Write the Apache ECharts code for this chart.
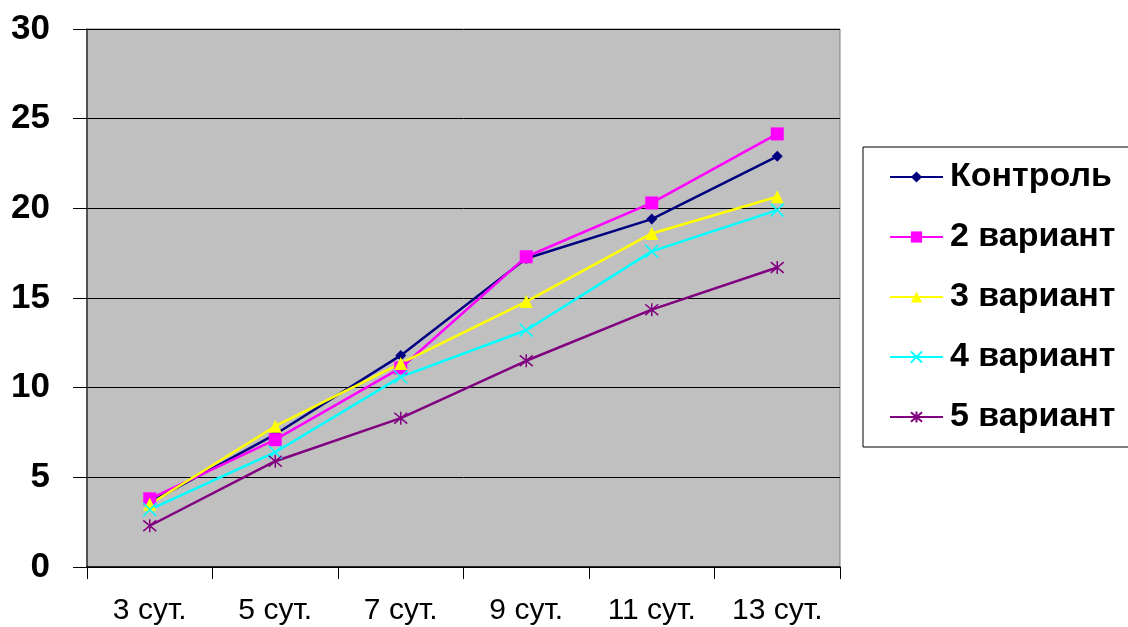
<!DOCTYPE html>
<html>
<head>
<meta charset="utf-8">
<script src="https://cdn.jsdelivr.net/npm/echarts@6/dist/echarts.min.js"></script>
<style>html,body{margin:0;padding:0;background:#fff;}#c{width:1128px;height:627px;}</style>
</head>
<body>
<div id="c"></div>
<script>
const categories = ['3 сут.', '5 сут.', '7 сут.', '9 сут.', '11 сут.', '13 сут.'];
const seriesNames = ['Контроль', '2 вариант', '3 вариант', '4 вариант', '5 вариант'];
const control = [3.6, 7.4, 11.8, 17.2, 19.4, 22.9];
const variant2 = [3.8, 7.1, 11.1, 17.3, 20.3, 24.15];
const variant3 = [3.5, 7.85, 11.35, 14.8, 18.6, 20.65];
const variant4 = [3.2, 6.4, 10.6, 13.2, 17.6, 19.9];
const variant5 = [2.3, 5.9, 8.3, 11.5, 14.35, 16.7];
const yTicks = [0, 5, 10, 15, 20, 25, 30];

const colors = ['#000080', '#FF00FF', '#FFFF00', '#00FFFF', '#800080'];
const symbols = [
  'diamond',
  'rect',
  'triangle',
  'path://M0,0L10,10M10,0L0,10',
  'path://M0,0L10,10M10,0L0,10M5,-1L5,11'
];
const sizes = [11, 13, 13, 13, 13];
const datas = [control, variant2, variant3, variant4, variant5];

const chart = echarts.init(document.getElementById('c'), null, {renderer: 'canvas'});
chart.setOption({
  animation: false,
  backgroundColor: '#ffffff',
  grid: {
    left: 87, right: 288, top: 29, bottom: 60,
    show: true, backgroundColor: '#C0C0C0', borderColor: '#808080', borderWidth: 1
  },
  legend: {
    left: 863, top: 147,
    orient: 'vertical',
    padding: [13, 13, 13, 26],
    backgroundColor: '#ffffff',
    borderColor: '#000000', borderWidth: 1,
    itemWidth: 53, itemHeight: 14, itemGap: 26,
    textStyle: {fontFamily: 'Liberation Sans, Arial, sans-serif', fontWeight: 'bold', fontSize: 34, lineHeight: 34, color: '#000', padding: [0,0,0,2]},
    data: seriesNames
  },
  xAxis: {
    type: 'category',
    data: categories,
    boundaryGap: true,
    axisLine: {lineStyle: {color: '#000', width: 1.5}},
    axisTick: {show: true, length: 12, lineStyle: {color: '#000'}},
    axisLabel: {fontFamily: 'Liberation Sans, Arial, sans-serif', fontSize: 30, color: '#000', margin: 29, interval: 0}
  },
  yAxis: {
    type: 'value',
    min: yTicks[0], max: yTicks[yTicks.length - 1], interval: 5,
    axisLine: {show: true, lineStyle: {color: '#333', width: 1.5}},
    axisTick: {show: true, length: 14, lineStyle: {color: '#000'}},
    splitLine: {show: true, lineStyle: {color: '#000', width: 1}},
    axisLabel: {fontFamily: 'Liberation Sans, Arial, sans-serif', fontWeight: 'bold', fontSize: 35, color: '#000', margin: 37}
  },
  series: seriesNames.map((n, i) => ({
    name: n,
    type: 'line',
    data: datas[i],
    symbol: symbols[i],
    symbolSize: sizes[i],
    showAllSymbol: true,
    lineStyle: {color: colors[i], width: 2.5},
    itemStyle: {color: colors[i], borderColor: colors[i], borderWidth: (i >= 3 ? 1.5 : 0)}
  }))
});
</script>
</body>
</html>
